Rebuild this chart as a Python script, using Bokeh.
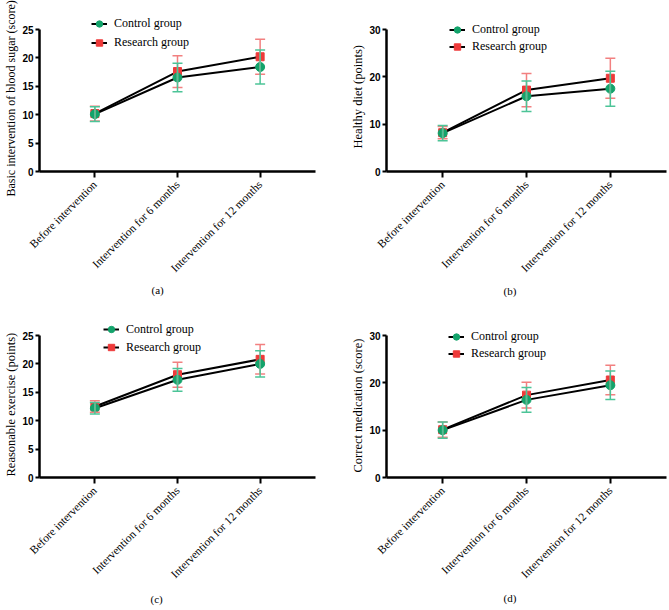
import math
from bokeh.plotting import figure
from bokeh.layouts import row, column
from bokeh.models import (ColumnDataSource, Whisker, TeeHead, Legend, LegendItem,
                          Title, FixedTicker, Range1d)
from bokeh.embed import file_html
from bokeh.resources import INLINE

categories = ["Before intervention", "Intervention for 6 months", "Intervention for 12 months"]
x_pos = [0, 1, 2]

# (a) Basic intervention of blood sugar
a_control = [10.1, 16.55, 18.4]
a_control_sd = [1.3, 2.5, 3.0]
a_research = [10.2, 17.6, 20.2]
a_research_sd = [1.3, 2.8, 3.1]

# (b) Healthy diet
b_control = [8.1, 15.9, 17.5]
b_control_sd = [1.6, 3.2, 3.7]
b_research = [8.2, 17.2, 19.7]
b_research_sd = [1.3, 3.5, 4.2]

# (c) Reasonable exercise
c_control = [12.2, 17.2, 20.0]
c_control_sd = [1.0, 2.0, 2.3]
c_research = [12.5, 18.1, 20.8]
c_research_sd = [1.0, 2.2, 2.6]

# (d) Correct medication
d_control = [10.0, 16.4, 19.5]
d_control_sd = [1.7, 2.6, 3.0]
d_research = [10.1, 17.4, 20.6]
d_research_sd = [1.6, 2.7, 3.1]

GREEN = "#13a36b"
GREEN_L = "#4cc497"
RED = "#ee3a3a"
RED_L = "#f28080"
SERIF = "Liberation Serif"
SANS = "Liberation Sans"
AXIS_H = 142  # pixel height of the drawn y axis


def panel(ylabel, ylab_size, ymax, ystep, ctrl, ctrl_sd, res, res_sd, caption,
          width, height, bl, br, axis_top, ext, leg_x, leg_r1, pitch, cap_off, cap_standoff,
          ylab_off):
    frame_h = AXIS_H + ext
    bt = axis_top - ext
    yend = ymax * frame_h / AXIS_H
    p = figure(width=width, height=height, output_backend="svg", toolbar_location=None,
               x_range=Range1d(-0.67, 2.67), y_range=Range1d(0, yend),
               min_border_left=bl, min_border_right=br, min_border_top=bt,
               min_border_bottom=height - bt - frame_h)
    p.outline_line_color = None
    p.grid.visible = False
    p.background_fill_color = "white"

    def src(vals, sd):
        return ColumnDataSource(dict(x=x_pos, y=vals,
                                     lo=[v - s for v, s in zip(vals, sd)],
                                     hi=[v + s for v, s in zip(vals, sd)]))

    s_c = src(ctrl, ctrl_sd)
    s_r = src(res, res_sd)

    for s, col in ((s_r, RED_L), (s_c, GREEN_L)):
        w = Whisker(source=s, base="x", upper="hi", lower="lo", line_color=col, line_width=1.5,
                    upper_head=TeeHead(size=10, line_color=col, line_width=1.5),
                    lower_head=TeeHead(size=10, line_color=col, line_width=1.5),
                    level="glyph")
        p.add_layout(w)

    l_r = p.line("x", "y", source=s_r, line_color="black", line_width=2)
    l_c = p.line("x", "y", source=s_c, line_color="black", line_width=2)
    m_r = p.scatter("x", "y", source=s_r, marker="square", size=8, fill_color=RED, line_color=RED)
    m_c = p.scatter("x", "y", source=s_c, marker="circle", size=9, fill_color=GREEN, line_color=GREEN)

    legend = Legend(items=[LegendItem(label="Control group", renderers=[l_c, m_c]),
                           LegendItem(label="Research group", renderers=[l_r, m_r])],
                    location=(leg_x, AXIS_H - leg_r1 - 1.5 * pitch))
    legend.margin = 0
    legend.padding = 0
    legend.spacing = 0
    legend.glyph_height = pitch
    legend.label_height = pitch
    legend.glyph_width = 16
    legend.label_standoff = 7
    legend.border_line_color = None
    legend.background_fill_alpha = 0
    legend.label_text_font = SERIF
    legend.label_text_font_size = "12px"
    legend.label_text_color = "black"
    p.add_layout(legend)

    # y axis
    ya = p.yaxis[0]
    ya.ticker = FixedTicker(ticks=list(range(0, ymax + 1, ystep)))
    ya.bounds = (0, ymax)
    ya.minor_tick_line_color = None
    ya.axis_line_width = 2.5
    ya.major_tick_line_width = 2
    ya.major_tick_out = 4
    ya.major_tick_in = 0
    ya.major_label_standoff = 2
    ya.major_label_text_font = SANS
    ya.major_label_text_font_style = "bold"
    ya.major_label_text_font_size = "10px"
    ya.major_label_text_color = "black"

    # y axis title, starting from its bottom end
    yt = Title(text=ylabel, align="left", offset=ylab_off, text_font=SERIF,
               text_font_style="normal", text_font_size=ylab_size, text_color="black",
               standoff=3)
    p.add_layout(yt, "left")

    # x axis
    xa = p.xaxis[0]
    xa.ticker = FixedTicker(ticks=x_pos)
    xa.major_label_overrides = {i: c for i, c in zip(x_pos, categories)}
    xa.minor_tick_line_color = None
    xa.axis_line_width = 2.5
    xa.major_tick_line_width = 2
    xa.major_tick_out = 6
    xa.major_tick_in = 0
    xa.major_label_orientation = math.pi / 4
    xa.major_label_standoff = 5
    xa.major_label_text_font = SERIF
    xa.major_label_text_font_size = "11.5px"
    xa.major_label_text_color = "black"

    t = Title(text=caption, align="left", offset=cap_off, text_font=SERIF,
              text_font_style="normal", text_font_size="11px", text_color="black",
              standoff=cap_standoff)
    p.add_layout(t, "below")
    return p


pa = panel("Basic intervention of blood sugar (score)", "12px", 25, 5, a_control, a_control_sd,
           a_research, a_research_sd, "(a)", 335, 300, 36, 20, 29, 20, 52, -6, 19, 112, 0, -25)
pb = panel("Healthy diet (points)", "12.5px", 30, 10, b_control, b_control_sd,
           b_research, b_research_sd, "(b)", 334, 300, 51, 3, 29, 20, 63, 0, 17, 117, 3, 23)
pc = panel("Reasonable exercise (points)", "12.5px", 25, 5, c_control, c_control_sd,
           c_research, c_research_sd, "(c)", 335, 310, 36, 20, 35, 18, 64, -6, 18, 111, 6, 1)
pd = panel("Correct medication (score)", "12.5px", 30, 10, d_control, d_control_sd,
           d_research, d_research_sd, "(d)", 334, 310, 51, 3, 35, 18, 62, 1, 17, 117, 4, 5)

layout = column(row(pa, pb), row(pc, pd))
open("out.html", "w").write(file_html(layout, INLINE))
